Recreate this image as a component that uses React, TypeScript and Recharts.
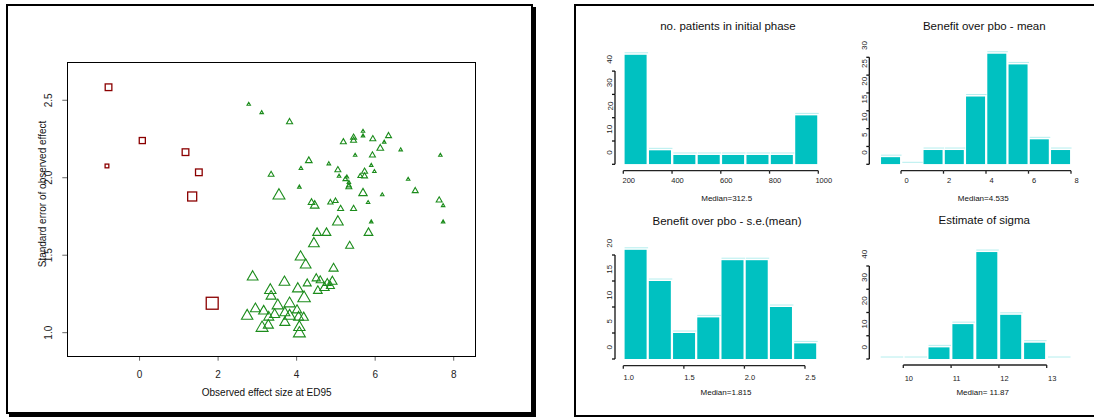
import React from 'react';
import { ScatterChart, Scatter, XAxis, YAxis, ZAxis, BarChart, Bar } from 'recharts';

const FONT = '"Liberation Sans", Arial, Helvetica, sans-serif';

// ---- left panel: simulated trials (triangles = continued, squares = stopped) ----
const effectTri = [
  2.78, 3.11, 3.82, 3.35, 3.55, 4.07, 4.31, 4.11, 4.38, 4.46, 4.82, 5.05, 5.08, 4.86, 4.99,
  5.12, 5.19, 5.45, 5.45, 5.69, 5.69, 5.94, 6.34, 6.23, 6.13, 5.49, 5.93, 6.65, 7.66, 5.98,
  5.9, 5.73, 5.62, 5.73, 5.28, 5.24, 5.33, 5.33, 5.33, 5.69, 6.18, 6.84, 7.02, 7.63, 7.73,
  7.73, 5.82, 5.45, 5.9, 5.05, 4.52, 4.76, 5.83, 4.44, 5.35, 4.1, 4.23, 2.88, 3.69, 4.94,
  4.5, 4.27, 4.6, 4.78, 4.91, 4.71, 4.86, 4.54, 4.03, 3.33, 3.35, 4.19, 3.52, 3.82, 2.95,
  2.74, 3.16, 3.29, 3.44, 3.7, 3.82, 4.01, 4.05, 4.18, 3.7, 3.28, 3.12, 4.07, 4.07,
];
const seTri = [
  2.474, 2.42, 2.36, 2.02, 1.885, 1.94, 2.11, 2.06, 1.84, 1.82, 2.09, 2.05, 2.01, 1.84, 1.85,
  1.8, 2.23, 2.26, 2.24, 2.3, 2.27, 2.25, 2.27, 2.23, 2.19, 2.145, 2.145, 2.18, 2.145, 2.04,
  2.08, 2.04, 2.01, 2.01, 2.005, 1.99, 1.97, 1.95, 1.94, 1.9, 1.89, 1.99, 1.915, 1.855, 1.82,
  1.715, 1.84, 1.8, 1.715, 1.715, 1.644, 1.644, 1.644, 1.575, 1.56, 1.489, 1.437, 1.36, 1.326, 1.414,
  1.35, 1.317, 1.337, 1.32, 1.33, 1.29, 1.3, 1.27, 1.283, 1.274, 1.235, 1.223, 1.175, 1.188, 1.154,
  1.108, 1.139, 1.1, 1.117, 1.128, 1.108, 1.145, 1.1, 1.098, 1.066, 1.048, 1.031, 1.035, 0.995,
];
const nTri = [
  200, 200, 430, 400, 950, 210, 480, 210, 480, 660, 210, 420, 210, 360, 360,
  420, 420, 420, 420, 200, 200, 420, 420, 200, 480, 200, 420, 200, 200, 200,
  200, 420, 310, 420, 200, 310, 200, 310, 420, 640, 200, 200, 420, 420, 200,
  200, 200, 420, 200, 840, 660, 660, 660, 840, 600, 840, 840, 840, 840, 700,
  620, 600, 600, 600, 720, 720, 600, 660, 840, 900, 780, 1000, 900, 900, 780,
  900, 780, 780, 780, 780, 900, 720, 780, 720, 780, 780, 950, 900, 950,
];
const effectSq = [-0.79, 0.07, 1.17, -0.83, 1.51, 1.34, 1.85];
const seSq = [2.584, 2.24, 2.165, 2.076, 2.035, 1.879, 1.19];
const nSq = [480, 430, 480, 220, 480, 690, 950];
const scatterXTicks = [0, 2, 4, 6, 8];
const scatterYTicks = [1.0, 1.5, 2.0, 2.5];

const triPoints = effectTri.map((x, i) => ({ x, y: seTri[i], n: nTri[i] }));
const sqPoints = effectSq.map((x, i) => ({ x, y: seSq[i], n: nSq[i] }));

// ---- right panel: histograms ----
const patientLows = [200, 300, 400, 500, 600, 700, 800, 900];
const patientCounts = [47, 6, 4, 4, 4, 4, 4, 21];
const patientXTicks = [200, 400, 600, 800, 1000];
const patientYTicks = [0, 10, 20, 30, 40];

const meanLows = [-1, 0, 1, 2, 3, 4, 5, 6, 7];
const meanCounts = [2, 0, 4, 4, 19, 31, 28, 7, 4];
const meanXTicks = [0, 2, 4, 6, 8];
const meanYTicks = [0, 5, 10, 15, 20, 25, 30];

const seLows = [1.0, 1.2, 1.4, 1.6, 1.8, 2.0, 2.2, 2.4];
const seCounts = [21, 15, 5, 8, 19, 19, 10, 3];
const seXTicks = [1.0, 1.5, 2.0, 2.5];
const seYTicks = [0, 5, 10, 15, 20];

const sigmaLows = [9.5, 10, 10.5, 11, 11.5, 12, 12.5, 13];
const sigmaCounts = [0, 0, 5, 15, 46, 19, 7, 0];
const sigmaXTicks = [10, 11, 12, 13];
const sigmaYTicks = [0, 10, 20, 30, 40];

const hists = [
  {
    title: 'no. patients in initial phase', median: 'Median=312.5',
    lows: patientLows, counts: patientCounts, binW: 100, xTicks: patientXTicks, yTicks: patientYTicks, dec: 0,
    box: [585, 8, 250, 197], plotL: 623.3, plotR: 818.3, plotB: 164.3, ppu: 2.33, yMax: 50,
    axisX: 615, axisY: 170.7, labDy: 9.5, titleAt: [728, 27], medAt: [726.7, 199],
  },
  {
    title: 'Benefit over pbo - mean', median: 'Median=4.535',
    lows: meanLows, counts: meanCounts, binW: 1, xTicks: meanXTicks, yTicks: meanYTicks, dec: 0,
    box: [840, 8, 254, 197], plotL: 879.75, plotR: 1071, plotB: 164.3, ppu: 3.567, yMax: 32,
    axisX: 869.3, axisY: 170.7, labDy: 9.5, titleAt: [984.3, 26.7], medAt: [983.3, 199],
  },
  {
    title: 'Benefit over pbo - s.e.(mean)', median: 'Median=1.815',
    lows: seLows, counts: seCounts, binW: 0.2, xTicks: seXTicks, yTicks: seYTicks, dec: 1,
    box: [585, 205, 250, 205], plotL: 623.3, plotR: 817.1, plotB: 359, ppu: 5.2, yMax: 22,
    axisX: 615, axisY: 365.7, labDy: 12, titleAt: [727, 221.7], medAt: [726, 392.7],
  },
  {
    title: 'Estimate of sigma', median: 'Median= 11.87',
    lows: sigmaLows, counts: sigmaCounts, binW: 0.5, xTicks: sigmaXTicks, yTicks: sigmaYTicks, dec: 0,
    box: [840, 205, 254, 205], plotL: 879.4, plotR: 1070.6, plotB: 359, ppu: 2.325, yMax: 50,
    axisX: 869.3, axisY: 365, labDy: 13, titleAt: [984.3, 221], medAt: [982.7, 393.3],
  },
];

// scatter plot region (page px)
const SC = { left: 67.3, top: 62.3, right: 475.7, bottom: 356.7, w: 545, h: 417 };

const Txt = ({ x, y, size, rotate, children }: any) => (
  <div
    style={{
      position: 'absolute', left: x, top: y, whiteSpace: 'nowrap', fontFamily: FONT,
      fontSize: size, lineHeight: 1, color: '#111',
      transform: `translate(-50%, -50%)${rotate ? ' rotate(-90deg)' : ''}`,
    }}
  >
    {children}
  </div>
);

const Triangle = (props: any) => {
  const { cx, cy } = props;
  const w = props.size ?? 6;
  const h = w * 0.866;
  const pts = `${cx},${cy - (h * 2) / 3} ${cx + w / 2},${cy + h / 3} ${cx - w / 2},${cy + h / 3}`;
  return <polygon points={pts} fill="none" stroke="#1c8c1c" strokeWidth={1.1} />;
};

const Square = (props: any) => {
  const { cx, cy } = props;
  const s = props.size ?? 6;
  return (
    <rect x={cx - s / 2} y={cy - s / 2} width={s} height={s} fill="none" stroke="#8b0000" strokeWidth={1.3} />
  );
};

const ScatterXTick = ({ x, y, payload }: any) => (
  <g>
    <line x1={x} x2={x} y1={y} y2={y + 4} stroke="#666" strokeWidth={1} />
    <text x={x} y={y + 17.5} textAnchor="middle" dominantBaseline="central" fontSize={10} fontFamily={FONT} fill="#222">
      {payload.value}
    </text>
  </g>
);

const ScatterYTick = ({ x, y, payload }: any) => (
  <g>
    <line x1={x - 5} x2={x} y1={y} y2={y} stroke="#666" strokeWidth={1} />
    <text
      x={x - 19} y={y} transform={`rotate(-90 ${x - 19} ${y})`} textAnchor="middle"
      dominantBaseline="central" fontSize={10} fontFamily={FONT} fill="#222"
    >
      {Number(payload.value).toFixed(1)}
    </text>
  </g>
);

const HistXTick = ({ x, y, payload, index, hc }: any) => {
  const step = ((hc.xTicks[1] - hc.xTicks[0]) * (hc.plotR - hc.plotL)) / (hc.lows.length * hc.binW);
  const ay = y + (hc.axisY - hc.plotB);
  const last = index === hc.xTicks.length - 1;
  return (
    <g>
      {!last && <line x1={x} x2={x + step} y1={ay} y2={ay} stroke="#222" strokeWidth={1.3} />}
      <line x1={x} x2={x} y1={ay} y2={ay + 3} stroke="#222" strokeWidth={1.3} />
      <text x={x + 5.5} y={ay + hc.labDy} textAnchor="middle" dominantBaseline="central" fontSize={7.5} fontFamily={FONT} fill="#222">
        {Number(payload.value).toFixed(hc.dec)}
      </text>
    </g>
  );
};

const HistYTick = ({ x, y, payload, index, hc }: any) => {
  const ax = x - (hc.plotL - hc.axisX);
  const step = (hc.yTicks[1] - hc.yTicks[0]) * hc.ppu;
  const last = index === hc.yTicks.length - 1;
  const lx = ax - 5;
  const ly = y - 11.7;
  return (
    <g>
      {!last && <line x1={ax} x2={ax} y1={y} y2={y - step} stroke="#111" strokeWidth={1.3} />}
      <line x1={ax - 3} x2={ax} y1={y} y2={y} stroke="#111" strokeWidth={1.3} />
      <text x={lx} y={ly} transform={`rotate(-90 ${lx} ${ly})`} textAnchor="middle" dominantBaseline="central" fontSize={8} fontFamily={FONT} fill="#222">
        {payload.value}
      </text>
    </g>
  );
};

const HistBar = (props: any) => {
  const { x, y, width, height } = props;
  return (
    <g>
      <line x1={x} x2={x + width + 1.5} y1={y - 2} y2={y - 2} stroke="#b4eeee" strokeWidth={1} />
      {height > 0 && <rect x={x} y={y} width={width} height={height} fill="#00c1c1" />}
    </g>
  );
};

const Histogram = ({ hc }: any) => {
  const [bl, bt, bw, bh] = hc.box;
  const plotT = hc.plotB - hc.yMax * hc.ppu;
  const data = hc.lows.map((lo: number, i: number) => ({
    bin: String(lo), mid: lo + hc.binW / 2, count: hc.counts[i],
  }));
  const lo = hc.lows[0];
  const hi = hc.lows[hc.lows.length - 1] + hc.binW;
  return (
    <div style={{ position: 'absolute', left: bl, top: bt }}>
      <BarChart
        width={bw} height={bh} data={data} barCategoryGap={1.3}
        margin={{ top: plotT - bt, right: bl + bw - hc.plotR, bottom: bt + bh - hc.plotB - 1, left: hc.plotL - bl - 1 }}
      >
        <XAxis xAxisId="bins" dataKey="bin" orientation="top" height={0} hide />
        <XAxis
          xAxisId="num" type="number" dataKey="mid" domain={[lo, hi]} allowDataOverflow ticks={hc.xTicks}
          interval={0} height={1} axisLine={false} tickLine={false} tickSize={0} tickMargin={0}
          tick={(p: any) => <HistXTick {...p} hc={hc} />}
        />
        <YAxis
          type="number" domain={[0, hc.yMax]} allowDataOverflow ticks={hc.yTicks} interval={0} width={1}
          axisLine={false} tickLine={false} tickSize={0} tickMargin={0}
          tick={(p: any) => <HistYTick {...p} hc={hc} />}
        />
        <Bar dataKey="count" xAxisId="bins" isAnimationActive={false} shape={HistBar} />
      </BarChart>
    </div>
  );
};

export default function App() {
  return (
    <div style={{ position: 'absolute', left: 0, top: 0, width: 1094, height: 417, background: '#fff', overflow: 'hidden' }}>
      {/* panel frames */}
      <div style={{ position: 'absolute', left: 6, top: 4, width: 527, height: 410, boxSizing: 'border-box', border: '2px solid #000', boxShadow: '3px 3px 0 #000' }} />
      <div style={{ position: 'absolute', left: 574, top: 4, width: 560, height: 413, boxSizing: 'border-box', border: '2.5px solid #000' }} />

      {/* scatter */}
      <div style={{ position: 'absolute', left: 0, top: 0 }}>
        <ScatterChart
          width={SC.w} height={SC.h}
          margin={{ top: SC.top, right: SC.w - SC.right, bottom: SC.h - SC.bottom - 1, left: SC.left - 1 }}
        >
          <XAxis
            type="number" dataKey="x" domain={[-1.84, 8.56]} allowDataOverflow ticks={scatterXTicks} interval={0}
            height={1} axisLine={false} tickLine={false} tickSize={0} tickMargin={0} tick={ScatterXTick}
          />
          <YAxis
            type="number" dataKey="y" domain={[0.845, 2.745]} allowDataOverflow ticks={scatterYTicks} interval={0}
            width={1} axisLine={false} tickLine={false} tickSize={0} tickMargin={0} tick={ScatterYTick}
          />
          <ZAxis type="number" dataKey="n" domain={[200, 1000]} range={[3.5, 12.5]} />
          <Scatter data={triPoints} shape={Triangle} isAnimationActive={false} />
          <Scatter data={sqPoints} shape={Square} isAnimationActive={false} />
        </ScatterChart>
      </div>
      <div
        style={{
          position: 'absolute', left: 67, top: 62, width: 409, height: 295, boxSizing: 'border-box',
          border: '1px solid #000', pointerEvents: 'none',
        }}
      />
      <Txt x={266.7} y={393.3} size={10}>Observed effect size at ED95</Txt>
      <Txt x={43.3} y={194} size={10} rotate>Standard error of observed effect</Txt>

      {/* histograms */}
      {hists.map((hc) => (
        <Histogram key={hc.title} hc={hc} />
      ))}
      {hists.map((hc) => (
        <React.Fragment key={hc.title + 't'}>
          <Txt x={hc.titleAt[0]} y={hc.titleAt[1]} size={11.5}>{hc.title}</Txt>
          <Txt x={hc.medAt[0]} y={hc.medAt[1]} size={8}>{hc.median}</Txt>
        </React.Fragment>
      ))}
    </div>
  );
}
